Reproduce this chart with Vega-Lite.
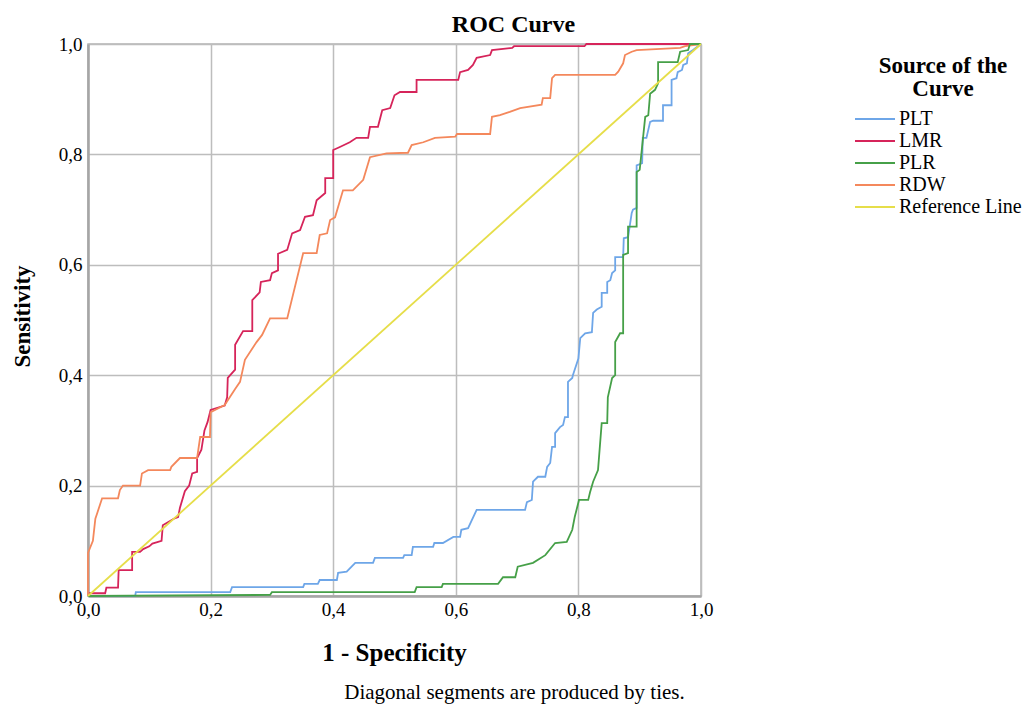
{
  "$schema": "https://vega.github.io/schema/vega-lite/v6.json",
  "width": 613,
  "height": 552,
  "autosize": {"type": "none"},
  "padding": {"left": 88, "top": 44, "right": 328, "bottom": 108},
  "background": "white",
  "title": {"text": "ROC Curve", "font": "Liberation Serif", "fontSize": 24, "fontWeight": "bold", "color": "#000000", "anchor": "middle", "dx": 119, "offset": -2},
  "config": {
    "font": "Liberation Serif",
    "view": {"stroke": "#B4B4B4", "strokeWidth": 1.5},
    "axis": {"labelFont": "Liberation Serif", "titleFont": "Liberation Serif", "labelColor": "#000000", "titleColor": "#000000", "labelFlush": false},
    "legend": {"labelFont": "Liberation Serif", "titleFont": "Liberation Serif"},
    "title": {"font": "Liberation Serif"}
  },
  "data": {"values": [
    {"s":"Reference Line","i":0,"x":0,"y":0},{"s":"Reference Line","i":1,"x":1,"y":1},
    {"s":"LMR","i":0,"x":0,"y":0},{"s":"LMR","i":1,"x":0.003,"y":0.005},{"s":"LMR","i":2,"x":0.028,"y":0.005},{"s":"LMR","i":3,"x":0.03,"y":0.015},{"s":"LMR","i":4,"x":0.049,"y":0.015},{"s":"LMR","i":5,"x":0.05,"y":0.047},{"s":"LMR","i":6,"x":0.072,"y":0.047},{"s":"LMR","i":7,"x":0.072,"y":0.08},{"s":"LMR","i":8,"x":0.085,"y":0.08},{"s":"LMR","i":9,"x":0.09,"y":0.085},{"s":"LMR","i":10,"x":0.1,"y":0.09},{"s":"LMR","i":11,"x":0.105,"y":0.095},{"s":"LMR","i":12,"x":0.12,"y":0.1},{"s":"LMR","i":13,"x":0.122,"y":0.128},{"s":"LMR","i":14,"x":0.14,"y":0.14},{"s":"LMR","i":15,"x":0.147,"y":0.143},{"s":"LMR","i":16,"x":0.15,"y":0.16},{"s":"LMR","i":17,"x":0.158,"y":0.19},{"s":"LMR","i":18,"x":0.165,"y":0.2},{"s":"LMR","i":19,"x":0.17,"y":0.222},{"s":"LMR","i":20,"x":0.178,"y":0.225},{"s":"LMR","i":21,"x":0.178,"y":0.25},{"s":"LMR","i":22,"x":0.185,"y":0.265},{"s":"LMR","i":23,"x":0.19,"y":0.3},{"s":"LMR","i":24,"x":0.195,"y":0.315},{"s":"LMR","i":25,"x":0.2,"y":0.337},{"s":"LMR","i":26,"x":0.223,"y":0.345},{"s":"LMR","i":27,"x":0.227,"y":0.36},{"s":"LMR","i":28,"x":0.228,"y":0.395},{"s":"LMR","i":29,"x":0.24,"y":0.41},{"s":"LMR","i":30,"x":0.24,"y":0.455},{"s":"LMR","i":31,"x":0.253,"y":0.48},{"s":"LMR","i":32,"x":0.268,"y":0.48},{"s":"LMR","i":33,"x":0.268,"y":0.536},{"s":"LMR","i":34,"x":0.28,"y":0.55},{"s":"LMR","i":35,"x":0.282,"y":0.569},{"s":"LMR","i":36,"x":0.297,"y":0.572},{"s":"LMR","i":37,"x":0.3,"y":0.585},{"s":"LMR","i":38,"x":0.31,"y":0.59},{"s":"LMR","i":39,"x":0.31,"y":0.62},{"s":"LMR","i":40,"x":0.325,"y":0.627},{"s":"LMR","i":41,"x":0.333,"y":0.657},{"s":"LMR","i":42,"x":0.346,"y":0.663},{"s":"LMR","i":43,"x":0.354,"y":0.687},{"s":"LMR","i":44,"x":0.367,"y":0.69},{"s":"LMR","i":45,"x":0.373,"y":0.717},{"s":"LMR","i":46,"x":0.387,"y":0.73},{"s":"LMR","i":47,"x":0.387,"y":0.757},{"s":"LMR","i":48,"x":0.4,"y":0.757},{"s":"LMR","i":49,"x":0.4,"y":0.808},{"s":"LMR","i":50,"x":0.41,"y":0.813},{"s":"LMR","i":51,"x":0.427,"y":0.822},{"s":"LMR","i":52,"x":0.438,"y":0.83},{"s":"LMR","i":53,"x":0.457,"y":0.83},{"s":"LMR","i":54,"x":0.46,"y":0.85},{"s":"LMR","i":55,"x":0.473,"y":0.85},{"s":"LMR","i":56,"x":0.48,"y":0.88},{"s":"LMR","i":57,"x":0.493,"y":0.884},{"s":"LMR","i":58,"x":0.5,"y":0.907},{"s":"LMR","i":59,"x":0.509,"y":0.913},{"s":"LMR","i":60,"x":0.536,"y":0.913},{"s":"LMR","i":61,"x":0.536,"y":0.935},{"s":"LMR","i":62,"x":0.604,"y":0.935},{"s":"LMR","i":63,"x":0.607,"y":0.949},{"s":"LMR","i":64,"x":0.62,"y":0.953},{"s":"LMR","i":65,"x":0.628,"y":0.962},{"s":"LMR","i":66,"x":0.634,"y":0.975},{"s":"LMR","i":67,"x":0.656,"y":0.98},{"s":"LMR","i":68,"x":0.659,"y":0.989},{"s":"LMR","i":69,"x":0.692,"y":0.993},{"s":"LMR","i":70,"x":0.695,"y":0.996},{"s":"LMR","i":71,"x":0.81,"y":0.996},{"s":"LMR","i":72,"x":0.813,"y":1},{"s":"LMR","i":73,"x":1,"y":1},
    {"s":"RDW","i":0,"x":0,"y":0},{"s":"RDW","i":1,"x":0,"y":0.078},{"s":"RDW","i":2,"x":0.008,"y":0.1},{"s":"RDW","i":3,"x":0.012,"y":0.14},{"s":"RDW","i":4,"x":0.015,"y":0.15},{"s":"RDW","i":5,"x":0.023,"y":0.177},{"s":"RDW","i":6,"x":0.049,"y":0.177},{"s":"RDW","i":7,"x":0.052,"y":0.192},{"s":"RDW","i":8,"x":0.057,"y":0.2},{"s":"RDW","i":9,"x":0.085,"y":0.2},{"s":"RDW","i":10,"x":0.088,"y":0.222},{"s":"RDW","i":11,"x":0.098,"y":0.228},{"s":"RDW","i":12,"x":0.134,"y":0.228},{"s":"RDW","i":13,"x":0.136,"y":0.234},{"s":"RDW","i":14,"x":0.15,"y":0.25},{"s":"RDW","i":15,"x":0.178,"y":0.25},{"s":"RDW","i":16,"x":0.183,"y":0.288},{"s":"RDW","i":17,"x":0.199,"y":0.288},{"s":"RDW","i":18,"x":0.2,"y":0.333},{"s":"RDW","i":19,"x":0.223,"y":0.346},{"s":"RDW","i":20,"x":0.24,"y":0.375},{"s":"RDW","i":21,"x":0.248,"y":0.388},{"s":"RDW","i":22,"x":0.256,"y":0.428},{"s":"RDW","i":23,"x":0.275,"y":0.46},{"s":"RDW","i":24,"x":0.284,"y":0.473},{"s":"RDW","i":25,"x":0.297,"y":0.503},{"s":"RDW","i":26,"x":0.325,"y":0.503},{"s":"RDW","i":27,"x":0.351,"y":0.621},{"s":"RDW","i":28,"x":0.373,"y":0.621},{"s":"RDW","i":29,"x":0.378,"y":0.654},{"s":"RDW","i":30,"x":0.39,"y":0.657},{"s":"RDW","i":31,"x":0.395,"y":0.681},{"s":"RDW","i":32,"x":0.403,"y":0.686},{"s":"RDW","i":33,"x":0.416,"y":0.735},{"s":"RDW","i":34,"x":0.432,"y":0.735},{"s":"RDW","i":35,"x":0.449,"y":0.754},{"s":"RDW","i":36,"x":0.46,"y":0.795},{"s":"RDW","i":37,"x":0.487,"y":0.802},{"s":"RDW","i":38,"x":0.522,"y":0.803},{"s":"RDW","i":39,"x":0.528,"y":0.817},{"s":"RDW","i":40,"x":0.547,"y":0.822},{"s":"RDW","i":41,"x":0.566,"y":0.83},{"s":"RDW","i":42,"x":0.599,"y":0.832},{"s":"RDW","i":43,"x":0.602,"y":0.837},{"s":"RDW","i":44,"x":0.656,"y":0.837},{"s":"RDW","i":45,"x":0.659,"y":0.868},{"s":"RDW","i":46,"x":0.672,"y":0.871},{"s":"RDW","i":47,"x":0.688,"y":0.877},{"s":"RDW","i":48,"x":0.705,"y":0.884},{"s":"RDW","i":49,"x":0.74,"y":0.89},{"s":"RDW","i":50,"x":0.742,"y":0.902},{"s":"RDW","i":51,"x":0.754,"y":0.902},{"s":"RDW","i":52,"x":0.757,"y":0.938},{"s":"RDW","i":53,"x":0.762,"y":0.944},{"s":"RDW","i":54,"x":0.86,"y":0.944},{"s":"RDW","i":55,"x":0.865,"y":0.95},{"s":"RDW","i":56,"x":0.873,"y":0.965},{"s":"RDW","i":57,"x":0.876,"y":0.98},{"s":"RDW","i":58,"x":0.887,"y":0.986},{"s":"RDW","i":59,"x":0.895,"y":0.989},{"s":"RDW","i":60,"x":0.966,"y":0.993},{"s":"RDW","i":61,"x":0.974,"y":0.996},{"s":"RDW","i":62,"x":1,"y":1},
    {"s":"PLT","i":0,"x":0,"y":0},{"s":"PLT","i":1,"x":0.077,"y":0},{"s":"PLT","i":2,"x":0.078,"y":0.007},{"s":"PLT","i":3,"x":0.232,"y":0.007},{"s":"PLT","i":4,"x":0.235,"y":0.016},{"s":"PLT","i":5,"x":0.351,"y":0.016},{"s":"PLT","i":6,"x":0.353,"y":0.022},{"s":"PLT","i":7,"x":0.375,"y":0.022},{"s":"PLT","i":8,"x":0.378,"y":0.029},{"s":"PLT","i":9,"x":0.406,"y":0.029},{"s":"PLT","i":10,"x":0.408,"y":0.042},{"s":"PLT","i":11,"x":0.422,"y":0.044},{"s":"PLT","i":12,"x":0.436,"y":0.06},{"s":"PLT","i":13,"x":0.465,"y":0.06},{"s":"PLT","i":14,"x":0.468,"y":0.069},{"s":"PLT","i":15,"x":0.514,"y":0.069},{"s":"PLT","i":16,"x":0.516,"y":0.074},{"s":"PLT","i":17,"x":0.528,"y":0.074},{"s":"PLT","i":18,"x":0.53,"y":0.089},{"s":"PLT","i":19,"x":0.563,"y":0.089},{"s":"PLT","i":20,"x":0.565,"y":0.096},{"s":"PLT","i":21,"x":0.579,"y":0.096},{"s":"PLT","i":22,"x":0.596,"y":0.107},{"s":"PLT","i":23,"x":0.607,"y":0.107},{"s":"PLT","i":24,"x":0.609,"y":0.12},{"s":"PLT","i":25,"x":0.62,"y":0.123},{"s":"PLT","i":26,"x":0.634,"y":0.156},{"s":"PLT","i":27,"x":0.713,"y":0.156},{"s":"PLT","i":28,"x":0.716,"y":0.17},{"s":"PLT","i":29,"x":0.724,"y":0.174},{"s":"PLT","i":30,"x":0.726,"y":0.207},{"s":"PLT","i":31,"x":0.734,"y":0.216},{"s":"PLT","i":32,"x":0.746,"y":0.216},{"s":"PLT","i":33,"x":0.749,"y":0.234},{"s":"PLT","i":34,"x":0.754,"y":0.241},{"s":"PLT","i":35,"x":0.757,"y":0.27},{"s":"PLT","i":36,"x":0.762,"y":0.27},{"s":"PLT","i":37,"x":0.762,"y":0.295},{"s":"PLT","i":38,"x":0.77,"y":0.306},{"s":"PLT","i":39,"x":0.775,"y":0.31},{"s":"PLT","i":40,"x":0.778,"y":0.324},{"s":"PLT","i":41,"x":0.783,"y":0.324},{"s":"PLT","i":42,"x":0.783,"y":0.388},{"s":"PLT","i":43,"x":0.79,"y":0.395},{"s":"PLT","i":44,"x":0.791,"y":0.4},{"s":"PLT","i":45,"x":0.8,"y":0.43},{"s":"PLT","i":46,"x":0.803,"y":0.467},{"s":"PLT","i":47,"x":0.811,"y":0.476},{"s":"PLT","i":48,"x":0.822,"y":0.478},{"s":"PLT","i":49,"x":0.824,"y":0.513},{"s":"PLT","i":50,"x":0.83,"y":0.519},{"s":"PLT","i":51,"x":0.838,"y":0.524},{"s":"PLT","i":52,"x":0.838,"y":0.549},{"s":"PLT","i":53,"x":0.847,"y":0.549},{"s":"PLT","i":54,"x":0.847,"y":0.569},{"s":"PLT","i":55,"x":0.852,"y":0.572},{"s":"PLT","i":56,"x":0.855,"y":0.585},{"s":"PLT","i":57,"x":0.86,"y":0.59},{"s":"PLT","i":58,"x":0.86,"y":0.614},{"s":"PLT","i":59,"x":0.873,"y":0.614},{"s":"PLT","i":60,"x":0.874,"y":0.648},{"s":"PLT","i":61,"x":0.881,"y":0.65},{"s":"PLT","i":62,"x":0.887,"y":0.694},{"s":"PLT","i":63,"x":0.889,"y":0.7},{"s":"PLT","i":64,"x":0.895,"y":0.703},{"s":"PLT","i":65,"x":0.895,"y":0.78},{"s":"PLT","i":66,"x":0.904,"y":0.784},{"s":"PLT","i":67,"x":0.905,"y":0.83},{"s":"PLT","i":68,"x":0.911,"y":0.83},{"s":"PLT","i":69,"x":0.917,"y":0.859},{"s":"PLT","i":70,"x":0.922,"y":0.861},{"s":"PLT","i":71,"x":0.938,"y":0.861},{"s":"PLT","i":72,"x":0.938,"y":0.889},{"s":"PLT","i":73,"x":0.952,"y":0.889},{"s":"PLT","i":74,"x":0.952,"y":0.935},{"s":"PLT","i":75,"x":0.96,"y":0.938},{"s":"PLT","i":76,"x":0.962,"y":0.949},{"s":"PLT","i":77,"x":0.969,"y":0.953},{"s":"PLT","i":78,"x":0.971,"y":0.962},{"s":"PLT","i":79,"x":0.977,"y":0.965},{"s":"PLT","i":80,"x":0.979,"y":0.983},{"s":"PLT","i":81,"x":0.987,"y":0.989},{"s":"PLT","i":82,"x":1,"y":1},
    {"s":"PLR","i":0,"x":0,"y":0},{"s":"PLR","i":1,"x":0.297,"y":0.002},{"s":"PLR","i":2,"x":0.3,"y":0.007},{"s":"PLR","i":3,"x":0.533,"y":0.007},{"s":"PLR","i":4,"x":0.536,"y":0.016},{"s":"PLR","i":5,"x":0.577,"y":0.016},{"s":"PLR","i":6,"x":0.579,"y":0.022},{"s":"PLR","i":7,"x":0.669,"y":0.022},{"s":"PLR","i":8,"x":0.677,"y":0.034},{"s":"PLR","i":9,"x":0.697,"y":0.034},{"s":"PLR","i":10,"x":0.701,"y":0.053},{"s":"PLR","i":11,"x":0.726,"y":0.06},{"s":"PLR","i":12,"x":0.746,"y":0.074},{"s":"PLR","i":13,"x":0.762,"y":0.096},{"s":"PLR","i":14,"x":0.781,"y":0.098},{"s":"PLR","i":15,"x":0.79,"y":0.12},{"s":"PLR","i":16,"x":0.794,"y":0.143},{"s":"PLR","i":17,"x":0.801,"y":0.174},{"s":"PLR","i":18,"x":0.816,"y":0.174},{"s":"PLR","i":19,"x":0.819,"y":0.188},{"s":"PLR","i":20,"x":0.824,"y":0.207},{"s":"PLR","i":21,"x":0.832,"y":0.228},{"s":"PLR","i":22,"x":0.838,"y":0.313},{"s":"PLR","i":23,"x":0.847,"y":0.313},{"s":"PLR","i":24,"x":0.848,"y":0.36},{"s":"PLR","i":25,"x":0.855,"y":0.395},{"s":"PLR","i":26,"x":0.86,"y":0.4},{"s":"PLR","i":27,"x":0.86,"y":0.46},{"s":"PLR","i":28,"x":0.868,"y":0.476},{"s":"PLR","i":29,"x":0.873,"y":0.476},{"s":"PLR","i":30,"x":0.873,"y":0.618},{"s":"PLR","i":31,"x":0.881,"y":0.621},{"s":"PLR","i":32,"x":0.881,"y":0.669},{"s":"PLR","i":33,"x":0.895,"y":0.669},{"s":"PLR","i":34,"x":0.895,"y":0.768},{"s":"PLR","i":35,"x":0.9,"y":0.772},{"s":"PLR","i":36,"x":0.909,"y":0.868},{"s":"PLR","i":37,"x":0.914,"y":0.871},{"s":"PLR","i":38,"x":0.917,"y":0.91},{"s":"PLR","i":39,"x":0.925,"y":0.917},{"s":"PLR","i":40,"x":0.93,"y":0.929},{"s":"PLR","i":41,"x":0.93,"y":0.967},{"s":"PLR","i":42,"x":0.962,"y":0.967},{"s":"PLR","i":43,"x":0.966,"y":0.986},{"s":"PLR","i":44,"x":0.979,"y":0.989},{"s":"PLR","i":45,"x":0.982,"y":1},{"s":"PLR","i":46,"x":1,"y":1}
  ]},
  "encoding": {
    "y": {"field": "y", "type": "quantitative", "scale": {"domain": [0, 1], "nice": false},
      "axis": {"values": [0, 0.2, 0.4, 0.6, 0.8, 1], "labelExpr": "replace(format(datum.value, '.1f'), '.', ',')", "labelFont": "Liberation Serif", "labelFontSize": 19, "labelPadding": 6, "ticks": false, "grid": true, "gridColor": "#BDBDBD", "gridWidth": 1.5, "domainColor": "#A6A6A6", "domainWidth": 2.5, "title": "Sensitivity", "titleFont": "Liberation Serif", "titleFontSize": 23, "titleFontWeight": "bold", "titleX": -66, "titleY": 272, "titleBaseline": "middle", "titleAlign": "center", "titleAngle": -90}},
    "color": {"field": "s", "type": "nominal",
      "scale": {"domain": ["PLT", "LMR", "PLR", "RDW", "Reference Line"], "range": ["#6EA6E8", "#D6245A", "#46A048", "#F4885C", "#E6DE4A"]},
      "legend": {"title": ["Source of the", "Curve"], "orient": "none", "legendX": 777, "legendY": 11, "titleFont": "Liberation Serif", "titleFontSize": 23, "titleFontWeight": "bold", "titleColor": "#000000", "titleAnchor": "middle", "titleAlign": "center", "titleLineHeight": 23, "titlePadding": 8, "labelFont": "Liberation Serif", "labelFontSize": 20, "labelColor": "#000000", "labelOffset": 14, "symbolType": "M-4,0H4", "symbolSize": 100, "symbolStrokeWidth": 2, "rowPadding": 2, "padding": 0}}
  },
  "layer": [
    {
      "transform": [{"filter": "datum.s != 'Reference Line'"}],
      "mark": {"type": "line", "strokeWidth": 1.8, "interpolate": "linear"},
      "encoding": {
        "x": {"field": "x", "type": "quantitative", "scale": {"domain": [0, 1], "nice": false},
          "axis": {"orient": "bottom", "values": [0, 0.2, 0.4, 0.6, 0.8, 1], "labelExpr": "replace(format(datum.value, '.1f'), '.', ',')", "labelFont": "Liberation Serif", "labelFontSize": 19, "labelPadding": 4, "labelFlush": false, "ticks": false, "grid": true, "gridColor": "#BDBDBD", "gridWidth": 1.5, "domainColor": "#A6A6A6", "domainWidth": 2.5, "title": "1 - Specificity", "titleFont": "Liberation Serif", "titleFontSize": 25, "titleFontWeight": "bold", "titleX": 306, "titleY": 56, "titleBaseline": "middle", "titleAlign": "center"}},
        "order": {"field": "i", "type": "quantitative"}
      }
    },
    {
      "transform": [{"filter": "datum.s == 'Reference Line'"}],
      "mark": {"type": "line", "strokeWidth": 1.8},
      "encoding": {
        "x": {"field": "x", "type": "quantitative", "scale": {"domain": [0, 1], "nice": false},
          "axis": {"orient": "bottom", "labels": false, "ticks": false, "domain": false, "grid": false, "title": "Diagonal segments are produced by ties.", "titleFont": "Liberation Serif", "titleFontSize": 21, "titleFontWeight": "normal", "titleX": 426, "titleY": 96, "titleBaseline": "middle", "titleAlign": "center"}},
        "order": {"field": "i", "type": "quantitative"}
      }
    }
  ],
  "resolve": {"axis": {"x": "independent"}}
}
